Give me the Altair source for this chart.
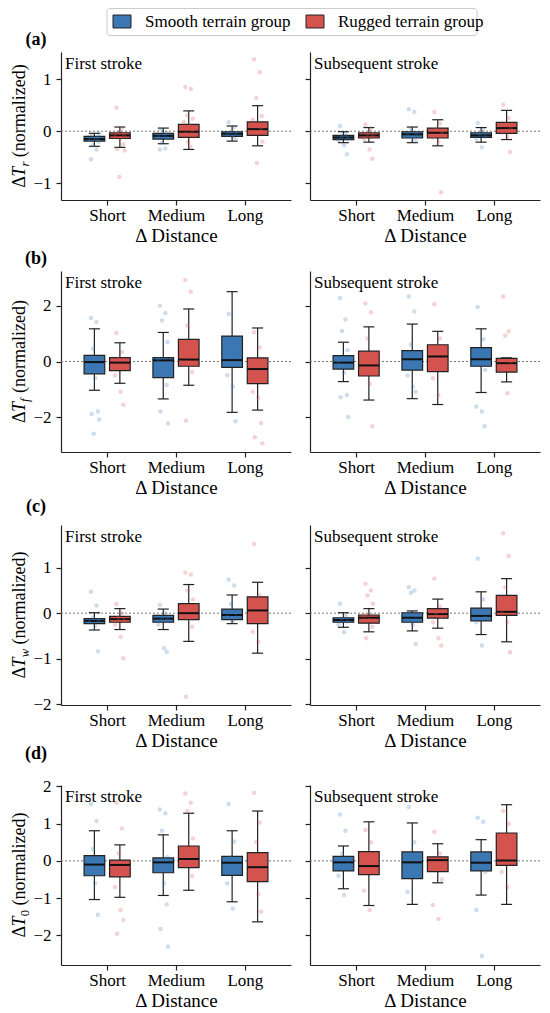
import altair as alt
import pandas as pd

FONT = "Liberation Serif"
DARK = "#222222"

distances = ["Short", "Medium", "Long"]
groups = ["Smooth terrain group", "Rugged terrain group"]
group_colors = ["#3a77b3", "#d4534f"]
stroke_types = ["First stroke", "Subsequent stroke"]
panel_letters = ["(a)", "(b)", "(c)", "(d)"]
metric_subs = ["r", "f", "w", "0"]
y_domains = [[-1.32, 1.52], [-3.24, 3.24], [-2.02, 1.94], [-2.80, 2.04]]
y_ticks = [[-1, 0, 1], [-2, 0, 2], [-2, -1, 0, 1], [-2, -1, 0, 1, 2]]

# box stats per distance (Short, Medium, Long): [low whisker, q1, median, q3, high whisker]
# ---- Delta T_r
tr_first_smooth_box = [[-0.29, -0.19, -0.15, -0.10, -0.04], [-0.24, -0.15, -0.09, -0.04, 0.06], [-0.19, -0.10, -0.05, -0.01, 0.10]]
tr_first_rugged_box = [[-0.31, -0.14, -0.08, -0.03, 0.08], [-0.35, -0.12, -0.01, 0.13, 0.39], [-0.28, -0.08, 0.04, 0.18, 0.49]]
tr_sub_smooth_box = [[-0.22, -0.16, -0.12, -0.08, -0.01], [-0.22, -0.13, -0.06, -0.01, 0.08], [-0.21, -0.12, -0.08, -0.03, 0.07]]
tr_sub_rugged_box = [[-0.21, -0.13, -0.08, -0.03, 0.07], [-0.28, -0.13, -0.03, 0.06, 0.22], [-0.16, -0.04, 0.06, 0.17, 0.40]]
tr_first_smooth_pts = [[-0.54, -0.35, -0.27, -0.20, -0.17, -0.14, -0.12, -0.09, -0.05], [-0.35, -0.33, -0.22, -0.14, -0.10, -0.07, -0.03, 0.04], [0.17, 0.08, -0.02, -0.04, -0.07, -0.09, -0.15]]
tr_first_rugged_pts = [[0.45, 0.06, -0.02, -0.06, -0.10, -0.13, -0.25, -0.34, -0.37, -0.88], [0.85, 0.81, 0.30, 0.24, 0.18, 0.10, 0.02, -0.05, -0.10, -0.20, -0.30], [1.38, 1.13, 0.64, 0.29, 0.22, 0.12, 0.05, -0.02, -0.20, -0.61]]
tr_sub_smooth_pts = [[0.10, -0.05, -0.10, -0.14, -0.18, -0.27, -0.44], [0.42, 0.37, 0.05, -0.03, -0.08, -0.12, -0.19], [0.16, 0.03, -0.06, -0.10, -0.15, -0.31]]
tr_sub_rugged_pts = [[0.13, 0.05, -0.05, -0.10, -0.15, -0.35, -0.53], [0.37, 0.15, 0.05, -0.05, -0.12, -0.20, -1.17], [0.51, 0.25, 0.12, 0.05, -0.02, -0.10, -0.40]]

# ---- Delta T_f
tf_first_smooth_box = [[-1.03, -0.44, -0.02, 0.22, 1.17], [-1.34, -0.58, 0.04, 0.14, 1.04], [-1.82, -0.21, 0.05, 0.91, 2.50]]
tf_first_rugged_box = [[-0.78, -0.33, -0.04, 0.14, 0.67], [-0.85, -0.17, 0.07, 0.79, 1.88], [-1.74, -0.79, -0.27, 0.13, 1.20]]
tf_sub_smooth_box = [[-0.72, -0.27, -0.04, 0.21, 0.69], [-1.33, -0.31, 0.08, 0.39, 1.34], [-1.11, -0.17, 0.08, 0.50, 1.17]]
tf_sub_rugged_box = [[-1.38, -0.52, -0.14, 0.37, 1.24], [-1.54, -0.36, 0.18, 0.60, 1.08], [-0.73, -0.38, -0.06, 0.11, 0.13]]
tf_first_smooth_pts = [[1.56, 1.41, 0.46, 0.10, -0.20, -0.60, -1.79, -1.88, -2.08, -2.59], [2.00, 1.74, 1.47, 0.70, 0.10, -0.30, -0.84, -1.79, -2.22], [1.70, 0.82, 0.30, -0.10, -0.49, -0.90, -2.14]]
tf_first_rugged_pts = [[1.02, 0.34, 0.10, -0.20, -0.50, -1.08, -1.55], [2.92, 2.50, 1.29, 0.60, 0.30, -0.10, -0.37, -2.12], [1.05, 0.50, -0.10, -0.50, -1.08, -1.30, -2.20, -2.71, -2.93]]
tf_sub_smooth_pts = [[2.27, 1.50, 1.09, 0.40, 0.00, -0.40, -1.20, -1.28, -1.99], [2.33, 1.79, 0.60, 0.20, -0.50, -0.90, -1.08], [1.95, 0.80, 0.30, -0.30, -1.61, -1.79, -2.32]]
tf_sub_rugged_pts = [[2.08, 1.76, 0.82, 0.20, -0.30, -0.80, -2.32], [2.05, 0.82, 0.40, -0.10, -0.60, -1.20], [2.33, 1.08, 0.93, 0.00, -0.30, -1.14]]

# ---- Delta T_w
tw_first_smooth_box = [[-0.37, -0.23, -0.17, -0.12, 0.01], [-0.36, -0.20, -0.12, -0.05, 0.09], [-0.23, -0.14, -0.04, 0.09, 0.40]]
tw_first_rugged_box = [[-0.36, -0.20, -0.13, -0.07, 0.10], [-0.62, -0.14, 0.00, 0.21, 0.63], [-0.88, -0.23, 0.06, 0.36, 0.68]]
tw_sub_smooth_box = [[-0.31, -0.20, -0.15, -0.10, 0.01], [-0.39, -0.20, -0.10, 0.01, 0.05], [-0.47, -0.17, -0.06, 0.11, 0.47]]
tw_sub_rugged_box = [[-0.41, -0.22, -0.10, -0.04, 0.10], [-0.33, -0.11, -0.02, 0.10, 0.31], [-0.63, -0.05, 0.03, 0.39, 0.76]]
tw_first_smooth_pts = [[0.47, 0.17, -0.10, -0.15, -0.20, -0.28, -0.84], [0.18, 0.00, -0.10, -0.15, -0.25, -0.77, -0.85], [0.74, 0.61, 0.20, 0.00, -0.08, -0.18]]
tw_first_rugged_pts = [[0.20, 0.00, -0.10, -0.16, -0.25, -0.52, -0.99], [0.89, 0.85, 0.50, 0.30, 0.10, -0.10, -0.30, -1.84], [1.52, 0.40, 0.20, -0.10, -0.41, -0.63]]
tw_sub_smooth_pts = [[0.21, -0.05, -0.12, -0.18, -0.25, -0.42], [0.57, 0.50, 0.45, -0.05, -0.15, -0.25, -0.68], [1.20, 0.30, 0.05, -0.10, -0.20, -0.71]]
tw_sub_rugged_pts = [[0.65, 0.50, 0.39, 0.21, -0.05, -0.15, -0.30, -0.55], [0.76, 0.15, 0.00, -0.08, -0.20, -0.55, -0.71], [1.76, 1.26, 0.57, 0.30, 0.00, -0.20, -0.86]]

# ---- Delta T_0
t0_first_smooth_box = [[-1.04, -0.40, -0.10, 0.14, 0.81], [-0.93, -0.32, -0.04, 0.08, 0.70], [-1.10, -0.39, -0.05, 0.12, 0.81]]
t0_first_rugged_box = [[-0.98, -0.43, -0.11, 0.02, 0.43], [-0.79, -0.18, 0.05, 0.40, 1.28], [-1.64, -0.56, -0.17, 0.22, 1.34]]
t0_sub_smooth_box = [[-0.75, -0.27, -0.04, 0.12, 0.40], [-1.17, -0.48, -0.04, 0.24, 1.02], [-0.92, -0.27, -0.05, 0.24, 0.57]]
t0_sub_rugged_box = [[-1.20, -0.37, -0.14, 0.25, 1.05], [-0.59, -0.29, 0.02, 0.11, 0.46], [-1.17, -0.12, 0.01, 0.75, 1.51]]
t0_first_smooth_pts = [[1.53, 1.07, 0.32, 0.00, -0.30, -0.60, -1.45], [1.38, 1.28, 0.81, 0.10, -0.20, -0.60, -1.17, -1.83, -2.31], [1.53, 0.52, 0.10, -0.20, -0.60, -1.28]]
t0_first_rugged_pts = [[1.56, 0.87, 0.20, -0.20, -0.70, -1.32, -1.59, -1.96], [1.81, 1.56, 1.34, 0.60, 0.20, -0.10, -0.40], [1.83, 1.03, 0.50, 0.00, -0.40, -0.90, -1.37]]
t0_sub_smooth_pts = [[1.25, 0.81, 0.20, -0.10, -0.40, -0.92], [1.45, 0.50, 0.10, -0.30, -0.83], [1.16, 1.05, 0.10, -0.30, -1.32, -2.56]]
t0_sub_rugged_pts = [[0.83, 0.50, 0.10, -0.30, -0.80, -1.32], [0.78, 0.20, -0.10, -0.50, -1.19, -1.56], [1.34, 1.00, 0.50, 0.10, -0.30, -0.70]]

boxes = [
    [[tr_first_smooth_box, tr_first_rugged_box], [tr_sub_smooth_box, tr_sub_rugged_box]],
    [[tf_first_smooth_box, tf_first_rugged_box], [tf_sub_smooth_box, tf_sub_rugged_box]],
    [[tw_first_smooth_box, tw_first_rugged_box], [tw_sub_smooth_box, tw_sub_rugged_box]],
    [[t0_first_smooth_box, t0_first_rugged_box], [t0_sub_smooth_box, t0_sub_rugged_box]],
]
points = [
    [[tr_first_smooth_pts, tr_first_rugged_pts], [tr_sub_smooth_pts, tr_sub_rugged_pts]],
    [[tf_first_smooth_pts, tf_first_rugged_pts], [tf_sub_smooth_pts, tf_sub_rugged_pts]],
    [[tw_first_smooth_pts, tw_first_rugged_pts], [tw_sub_smooth_pts, tw_sub_rugged_pts]],
    [[t0_first_smooth_pts, t0_first_rugged_pts], [t0_sub_smooth_pts, t0_sub_rugged_pts]],
]

# ---- layout / style constants
PANEL_W = 230
ROW_H = [148, 181, 180, 180]
ROW_SPACER = [69, 71, 70]
NEXT_LABEL_Y = [59, 55, 49]
DODGE = 0.185
BOX_W = 0.30
CAP_W = 0.16
JITTER = [-0.05, 0.03, -0.02, 0.06, -0.07, 0.01, 0.05, -0.04, 0.07, -0.01, 0.02]
SUB_W = {"r": 4.9, "f": 4.5, "w": 8.4, "0": 6.3}

color_scale = alt.Scale(domain=groups, range=group_colors)
one = pd.DataFrame({"k": [0]})


def tables(m, s):
    box_rows, pt_rows = [], []
    for g in range(2):
        off = -DODGE if g == 0 else DODGE
        for d in range(3):
            lo, q1, med, q3, hi = boxes[m][s][g][d]
            c = d + off
            box_rows.append(dict(group=groups[g], pos=c, left=c - BOX_W / 2, right=c + BOX_W / 2,
                                 capl=c - CAP_W / 2, capr=c + CAP_W / 2,
                                 lo=lo, q1=q1, med=med, q3=q3, hi=hi))
            for k, v in enumerate(points[m][s][g][d]):
                pt_rows.append(dict(group=groups[g], xj=c + JITTER[k % len(JITTER)], v=v))
    return pd.DataFrame(box_rows), pd.DataFrame(pt_rows)


def ytitle_layers(m, h):
    sub = metric_subs[m]
    d_w, t_w, gap_w, rest_w = 11.0, 10.2, 4.5, 93.0
    total = d_w + t_w + SUB_W[sub] + gap_w + rest_w
    s0 = -total / 2
    common = dict(angle=270, align="left", baseline="middle", font=FONT, color="black")
    enc = dict(x=alt.value(-41), y=alt.value(h / 2))
    base = alt.Chart(one)
    return [
        base.mark_text(text="Δ", fontSize=18, dx=s0, **common).encode(**enc),
        base.mark_text(text="T", fontSize=18, fontStyle="italic", dx=s0 + d_w, **common).encode(**enc),
        base.mark_text(text=sub, fontSize=12.6, fontStyle=("normal" if sub == "0" else "italic"),
                       dx=s0 + d_w + t_w, dy=5, **common).encode(**enc),
        base.mark_text(text="(normalized)", fontSize=18,
                       dx=s0 + d_w + t_w + SUB_W[sub] + gap_w, **common).encode(**enc),
    ]


def build_panel(m, s):
    left = s == 0
    h = ROW_H[m]
    box_df, pt_df = tables(m, s)
    xs = alt.Scale(domain=[-0.67, 2.67], nice=False, zero=False)
    ys = alt.Scale(domain=y_domains[m], nice=False, zero=False)
    label_expr = "[" + ",".join("'%s'" % d for d in distances) + "][datum.value]"
    xaxis = alt.Axis(values=[0, 1, 2], labelExpr=label_expr, title="Δ Distance",
                     labelPadding=2, titlePadding=3, labelFlush=False)
    yaxis = alt.Axis(values=y_ticks[m], labels=left, title=None, labelPadding=5, labelFlush=False)

    def X(f):
        return alt.X(f, type="quantitative", scale=xs, axis=xaxis)

    def Y(f):
        return alt.Y(f, type="quantitative", scale=ys, axis=yaxis)

    col = alt.Color("group:N", scale=color_scale, legend=None)
    bb = alt.Chart(box_df)
    layers = [
        alt.Chart(pd.DataFrame({"zero": [0]})).mark_rule(color="#777777", strokeDash=[2, 2], strokeWidth=1)
        .encode(y=Y("zero")),
        bb.mark_rule(color=DARK, strokeWidth=1.2).encode(x=X("pos"), y=Y("lo"), y2=alt.Y2("q1")),
        bb.mark_rule(color=DARK, strokeWidth=1.2).encode(x=X("pos"), y=Y("q3"), y2=alt.Y2("hi")),
        bb.mark_rule(color=DARK, strokeWidth=1.2).encode(x=X("capl"), x2=alt.X2("capr"), y=Y("lo")),
        bb.mark_rule(color=DARK, strokeWidth=1.2).encode(x=X("capl"), x2=alt.X2("capr"), y=Y("hi")),
        bb.mark_bar(stroke=DARK, strokeWidth=1.2).encode(x=X("left"), x2=alt.X2("right"),
                                                         y=Y("q1"), y2=alt.Y2("q3"), color=col),
        bb.mark_rule(color="#111111", strokeWidth=2).encode(x=X("left"), x2=alt.X2("right"), y=Y("med")),
        alt.Chart(pt_df).mark_circle(size=20, opacity=0.25).encode(x=X("xj"), y=Y("v"), color=col),
        alt.Chart(one).mark_text(text=stroke_types[s], align="left", baseline="alphabetic",
                                 fontSize=17, font=FONT, color="black")
        .encode(x=alt.value(4), y=alt.value(17)),
    ]
    if left:
        layers += ytitle_layers(m, h)
        if m < 3:
            layers.append(
                alt.Chart(one).mark_text(text=panel_letters[m + 1], fontSize=18, fontWeight="bold",
                                         align="center", baseline="middle", font=FONT, color="black")
                .encode(x=alt.value(-25), y=alt.value(h + NEXT_LABEL_Y[m]))
            )
            layers.append(
                alt.Chart(one).mark_rule(strokeOpacity=0)
                .encode(x=alt.value(0), y=alt.value(h + ROW_SPACER[m] - 1), y2=alt.value(h + ROW_SPACER[m]))
            )
    return alt.layer(*layers).properties(width=PANEL_W, height=h)


# ---- legend strip above the panels (its origin lines up with the left plot's left edge)
leg_df = pd.DataFrame({"group": groups})
leg_x = alt.X("group:N", scale=alt.Scale(domain=groups, range=[61, 254], padding=0), axis=None)
SWATCH = "M-1,-0.72L1,-0.72L1,0.72L-1,0.72Z"
legend_chart = alt.layer(
    alt.Chart(one).mark_rect(fill="white", stroke="#cccccc", strokeWidth=1, cornerRadius=3)
    .encode(x=alt.value(46), x2=alt.value(416), y=alt.value(0.5), y2=alt.value(27.5)),
    alt.Chart(leg_df).mark_point(shape=SWATCH, filled=True, size=324, stroke=DARK, strokeWidth=1, opacity=1)
    .encode(x=leg_x, y=alt.value(13.5), color=alt.Color("group:N", scale=color_scale, legend=None)),
    alt.Chart(leg_df).mark_text(align="left", baseline="middle", dx=23, fontSize=17, font=FONT, color="black")
    .encode(x=leg_x, y=alt.value(13.5), text="group:N"),
    alt.Chart(one).mark_text(text=panel_letters[0], fontSize=18, fontWeight="bold", align="center",
                             baseline="middle", font=FONT, color="black")
    .encode(x=alt.value(-25), y=alt.value(32)),
).properties(width=470, height=42)

rows = [alt.hconcat(build_panel(m, 0), build_panel(m, 1), spacing=12) for m in range(4)]

chart = (
    alt.vconcat(legend_chart, *rows, spacing=2)
    .properties(padding={"left": 3, "top": 0, "right": 0, "bottom": 0})
    .configure(font=FONT)
    .configure_view(strokeWidth=0)
    .configure_axis(
        grid=False, labelFont=FONT, titleFont=FONT, labelFontSize=17, titleFontSize=19,
        titleFontWeight="normal", labelColor="black", titleColor="black",
        domainColor=DARK, domainWidth=1.2, tickColor=DARK, tickWidth=1.2, tickSize=5,
    )
)

chart.save("out.html", embed_options={"renderer": "svg", "actions": False})
